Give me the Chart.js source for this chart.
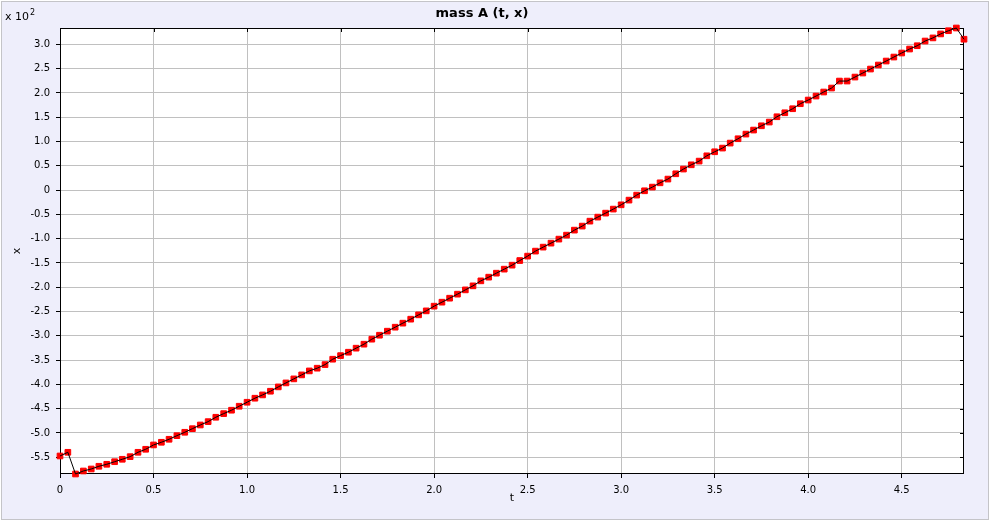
<!DOCTYPE html>
<html>
<head>
<meta charset="utf-8">
<script src="https://cdn.jsdelivr.net/npm/chart.js@4/dist/chart.umd.min.js"></script>
<style>
    html, body { margin: 0; padding: 0; background: #ffffff; }
    canvas { display: block; }
</style>
</head>
<body>
<canvas id="massChart" width="994" height="522"></canvas>
<script>
// sample times t (1/24 steps)
const T_VALUES = [
    0, 0.042, 0.083, 0.125, 0.167, 0.208, 0.25, 0.292, 0.333, 0.375, 0.417, 0.458,
    0.5, 0.542, 0.583, 0.625, 0.667, 0.708, 0.75, 0.792, 0.833, 0.875, 0.917, 0.958,
    1.0, 1.042, 1.083, 1.125, 1.167, 1.208, 1.25, 1.292, 1.333, 1.375, 1.417, 1.458,
    1.5, 1.542, 1.583, 1.625, 1.667, 1.708, 1.75, 1.792, 1.833, 1.875, 1.917, 1.958,
    2.0, 2.042, 2.083, 2.125, 2.167, 2.208, 2.25, 2.292, 2.333, 2.375, 2.417, 2.458,
    2.5, 2.542, 2.583, 2.625, 2.667, 2.708, 2.75, 2.792, 2.833, 2.875, 2.917, 2.958,
    3.0, 3.042, 3.083, 3.125, 3.167, 3.208, 3.25, 3.292, 3.333, 3.375, 3.417, 3.458,
    3.5, 3.542, 3.583, 3.625, 3.667, 3.708, 3.75, 3.792, 3.833, 3.875, 3.917, 3.958,
    4.0, 4.042, 4.083, 4.125, 4.167, 4.208, 4.25, 4.292, 4.333, 4.375, 4.417, 4.458,
    4.5, 4.542, 4.583, 4.625, 4.667, 4.708, 4.75, 4.792, 4.833
];

// position x of mass A
const X_VALUES = [
    -547.3, -539.7, -584.4, -578.2, -574.1, -568.5, -564.4, -559.1, -554.1, -548.7, -539.7, -533.5,
    -524.6, -519.1, -512.9, -505.5, -498.5, -491.1, -483.5, -476.6, -467.6, -460.1, -453.1, -444.9,
    -436.7, -428.4, -421.6, -414.0, -405.1, -396.9, -388.6, -380.4, -372.2, -366.6, -359.2, -348.1,
    -340.7, -333.7, -325.4, -317.2, -306.9, -298.7, -290.4, -282.2, -273.9, -265.7, -256.8, -248.6,
    -238.9, -230.7, -222.5, -214.2, -205.4, -197.1, -186.8, -179.2, -171.0, -162.7, -154.5, -145.0,
    -135.9, -125.6, -117.4, -109.2, -100.9, -92.7, -82.4, -74.1, -63.9, -55.6, -47.4, -39.1,
    -30.3, -20.6, -10.3, -1.4, 6.2, 15.0, 22.7, 33.6, 43.3, 52.1, 59.7, 70.6,
    78.9, 86.5, 96.8, 105.7, 115.3, 123.6, 132.4, 140.1, 151.0, 159.2, 167.5, 177.8,
    185.4, 193.6, 201.9, 210.1, 224.5, 224.5, 232.7, 241.0, 249.2, 257.5, 265.7, 273.9,
    282.2, 290.4, 297.2, 306.9, 313.3, 321.5, 328.1, 333.7, 310.6
];

// tick positions
const X_TICKS = [0, 0.5, 1.0, 1.5, 2.0, 2.5, 3.0, 3.5, 4.0, 4.5];
const Y_TICKS = [-550, -500, -450, -400, -350, -300, -250, -200, -150, -100, -50,
    0, 50, 100, 150, 200, 250, 300];

const FONT = "'DejaVu Sans', 'Lucida Grande', Verdana, sans-serif";
const GRID_COLOR = "#c0c0c0";

const points = T_VALUES.map((t, i) => ({ x: t, y: X_VALUES[i] }));

function fmt(v, scale) {
    if (v === 0) return "0";
    return (v / scale).toFixed(1);
}

// ✅ frame, white plot area, box and mirrored inner ticks
const framePlugin = {
    id: "frame",
    beforeDraw(chart) {
        const ctx = chart.ctx;
        const a = chart.chartArea;
        ctx.save();
        ctx.fillStyle = "#ffffff";
        ctx.fillRect(0, 0, chart.width, chart.height);
        ctx.fillStyle = "#eeeefb";
        ctx.fillRect(1, 1, 988, 519);
        ctx.strokeStyle = "#c4c4c8";
        ctx.lineWidth = 1;
        ctx.strokeRect(1.5, 1.5, 987, 518);
        ctx.fillStyle = "#ffffff";
        ctx.fillRect(a.left, a.top, a.right - a.left, a.bottom - a.top);
        ctx.restore();
    },
    beforeDatasetsDraw(chart) {
        const ctx = chart.ctx;
        const a = chart.chartArea;
        const xs = chart.scales.x;
        const ys = chart.scales.y;
        ctx.save();
        ctx.strokeStyle = "#000000";
        ctx.lineWidth = 1;
        ctx.beginPath();
        X_TICKS.forEach(v => {
            const px = Math.round(xs.getPixelForValue(v)) + 0.5;
            ctx.moveTo(px, a.top);
            ctx.lineTo(px, a.top + 4);
        });
        Y_TICKS.forEach(v => {
            const py = Math.round(ys.getPixelForValue(v)) + 0.5;
            ctx.moveTo(a.right, py);
            ctx.lineTo(a.right - 4, py);
        });
        ctx.stroke();
        ctx.strokeRect(Math.round(a.left) + 0.5, Math.round(a.top) + 0.5,
            Math.round(a.right - a.left) - 1, Math.round(a.bottom - a.top) - 1);
        ctx.restore();
    },
    afterDraw(chart) {
        const ctx = chart.ctx;
        ctx.save();
        ctx.fillStyle = "#000000";
        ctx.textBaseline = "alphabetic";
        ctx.font = "11px " + FONT;
        ctx.fillText("x 10", 5, 20);
        const w = ctx.measureText("x 10").width;
        ctx.font = "8px " + FONT;
        ctx.fillText("2", 5 + w + 1, 15);
        ctx.restore();
    }
};

const ctx = document.getElementById("massChart").getContext("2d");

const massChart = new Chart(ctx, {
    type: "line",
    data: {
        datasets: [
            {
                label: "line",
                data: points,
                order: 0,
                borderColor: "#000000",
                borderWidth: 1,
                pointRadius: 0,
                tension: 0,
                clip: false
            },
            {
                label: "points",
                data: points,
                order: 1,
                showLine: false,
                pointStyle: "rect",
                pointRadius: 4,
                pointBorderWidth: 1,
                pointBackgroundColor: "#ff0000",
                pointBorderColor: "#ff0000",
                clip: false
            }
        ]
    },
    options: {
        responsive: false,
        animation: false,
        devicePixelRatio: 1,
        layout: { padding: { left: 0, right: 30, top: 0, bottom: 0 } },
        plugins: {
            legend: { display: false },
            tooltip: { enabled: false },
            title: {
                display: true,
                text: "mass A (t, x)",
                color: "#000000",
                font: { family: FONT, size: 13, weight: "bold" },
                padding: { top: 6, bottom: 6.4 }
            }
        },
        scales: {
            x: {
                type: "linear",
                min: 0,
                max: T_VALUES[T_VALUES.length - 1],
                afterBuildTicks: s => { s.ticks = X_TICKS.map(value => ({ value })); },
                afterFit: s => { s.height = 48; },
                grid: { color: GRID_COLOR, tickColor: "#000000", tickLength: 4 },
                border: { display: false },
                ticks: {
                    color: "#000000",
                    font: { family: FONT, size: 10 },
                    padding: 6,
                    maxRotation: 0,
                    autoSkip: false,
                    callback: v => fmt(v, 1)
                },
                title: {
                    display: true,
                    text: "t",
                    color: "#000000",
                    font: { family: FONT, size: 11 },
                    padding: { top: 0, bottom: 17 }
                }
            },
            y: {
                type: "linear",
                min: Math.min(...X_VALUES),
                max: Math.max(...X_VALUES),
                afterBuildTicks: s => { s.ticks = Y_TICKS.map(value => ({ value })); },
                afterFit: s => { s.width = 60; },
                grid: { color: GRID_COLOR, tickColor: "#000000", tickLength: 4 },
                border: { display: false },
                ticks: {
                    color: "#000000",
                    font: { family: FONT, size: 10 },
                    padding: 6,
                    autoSkip: false,
                    callback: v => fmt(v, 100)
                },
                title: {
                    display: true,
                    text: "x",
                    color: "#000000",
                    font: { family: FONT, size: 11 },
                    padding: { top: 11, bottom: 0 }
                }
            }
        }
    },
    plugins: [framePlugin]
});
</script>
</body>
</html>
